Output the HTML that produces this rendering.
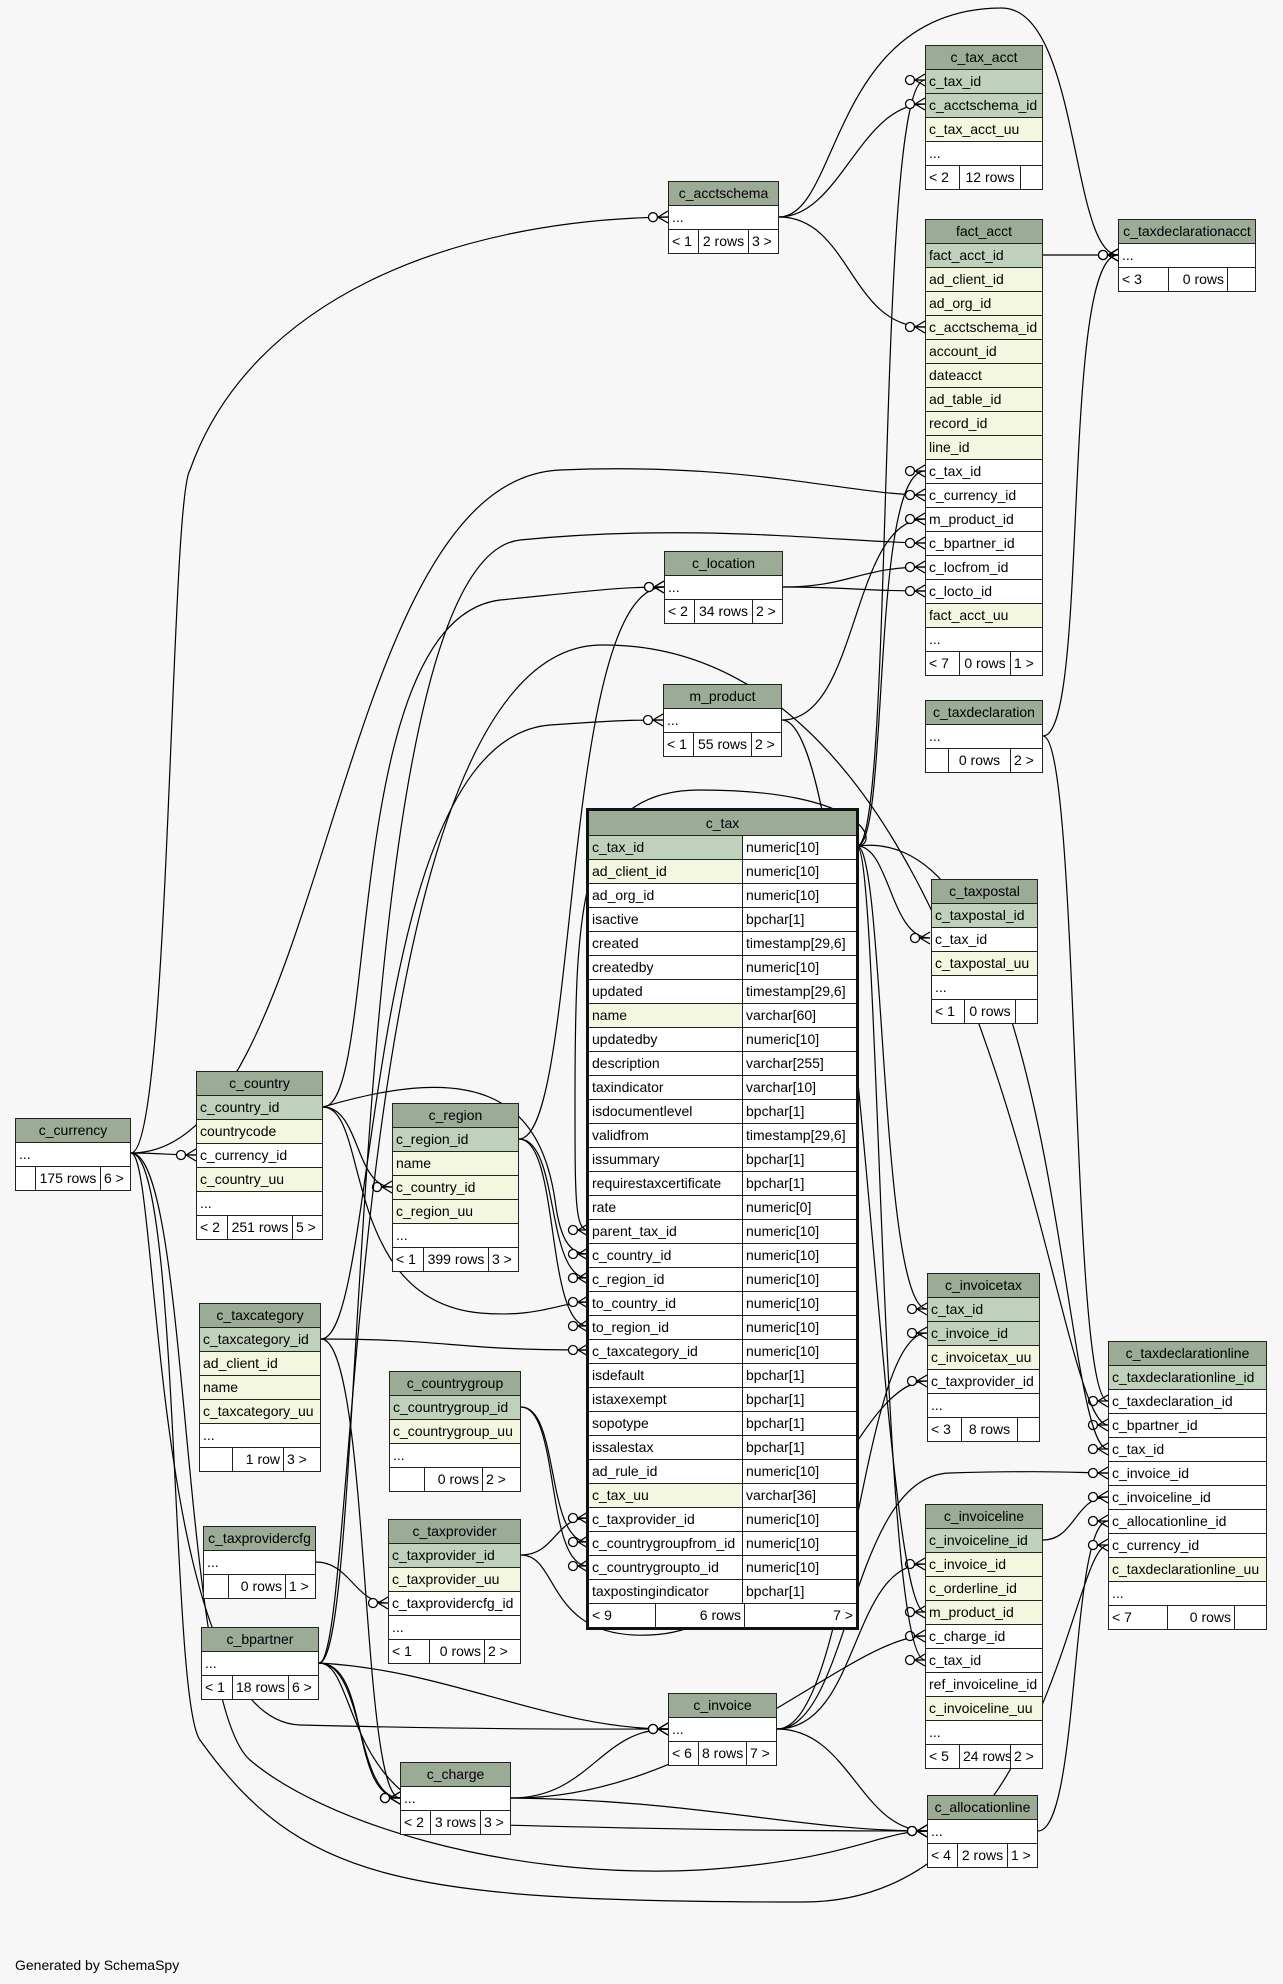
<!DOCTYPE html>
<html><head><meta charset="utf-8">
<style>
html,body{margin:0;padding:0;}
body{width:1283px;height:1984px;background:#f7f7f7;position:relative;overflow:hidden;font-family:"Liberation Sans",Arial,sans-serif;font-size:14px;color:#000;}
.t{position:absolute;border:1px solid #222;background:#fff;box-sizing:border-box;}
.t.big{border:3px solid #111;}
.h{height:23px;line-height:23px;background:#9bab96;text-align:center;white-space:nowrap;}
.r{height:23px;line-height:23px;border-top:1px solid #222;padding-left:3px;white-space:nowrap;overflow:hidden;}
.pk{background:#bfd1ba;}
.ix{background:#f4f7df;}
.f{display:flex;height:23px;line-height:23px;border-top:1px solid #222;white-space:nowrap;}
.f span{border-left:1px solid #222;padding:0 3px;box-sizing:border-box;overflow:hidden;}
.f span:first-child{border-left:none;}
.f span.m{flex:1;text-align:right;}
.r2{display:flex;height:23px;line-height:23px;border-top:1px solid #222;white-space:nowrap;}
.r2 span{padding-left:3px;box-sizing:border-box;overflow:hidden;}
.r2 span:first-child{width:154px;border-right:1px solid #222;}
.r2 span:last-child{flex:1;background:#fff;}
svg{position:absolute;left:0;top:0;}
.gen{position:absolute;left:15px;top:1957px;font-size:14px;}
</style></head><body>

<svg width="1283" height="1984" viewBox="0 0 1283 1984">
<defs>
<marker id="cr" markerUnits="userSpaceOnUse" markerWidth="30" markerHeight="20" refX="26" refY="10" orient="auto" viewBox="0 0 30 20">
<path d="M16 10 L26 4 M16 10 L26 10 M16 10 L26 16" stroke="#000" stroke-width="1.3" fill="none"/>
<circle cx="11" cy="10" r="4.5" fill="#fff" stroke="#000" stroke-width="1.3"/>
</marker>
</defs>
<g fill="none" stroke="#000" stroke-width="1.2" marker-end="url(#cr)">
<path d="M857 846 C 895 846, 875 80, 925 80"/>
<path d="M779 217 C 840 217, 860 104, 925 104"/>
<path d="M779 217 C 850 217, 850 327, 925 327"/>
<path d="M857 846 C 890 846, 870 471, 925 471"/>
<path d="M131 1153 C 330 1153, 330 480, 560 470 C 750 462, 850 495, 925 495"/>
<path d="M782 720 C 860 720, 850 519, 925 519"/>
<path d="M319 1663 C 370 1663, 340 560, 520 540 C 700 522, 850 543, 925 543"/>
<path d="M783 587 C 850 587, 860 567, 925 567"/>
<path d="M783 587 C 850 587, 860 591, 925 591"/>
<path d="M1043 255 L 1118 255"/>
<path d="M779 217 C 840 217, 830 10, 1000 8 C 1080 5, 1070 255, 1118 255"/>
<path d="M1043 736 C 1090 736, 1060 255, 1118 255"/>
<path d="M131 1153 C 170 1153, 170 500, 190 470 C 250 300, 450 220, 668 217"/>
<path d="M323 1107 C 380 1107, 340 620, 500 600 C 600 590, 620 587, 664 587"/>
<path d="M519 1139 C 580 1139, 560 587, 664 587"/>
<path d="M321 1339 C 380 1339, 360 740, 550 725 C 620 720, 640 720, 663 720"/>
<path d="M131 1153 C 160 1153, 170 1155, 196 1155"/>
<path d="M323 1107 C 360 1107, 355 1187, 392 1187"/>
<path d="M857 846 C 880 846, 870 790, 700 790 C 580 790, 575 900, 575 1100 C 575 1200, 575 1230, 588 1230"/>
<path d="M323 1107 C 480 1060, 540 1100, 555 1200 C 560 1240, 570 1254, 588 1254"/>
<path d="M519 1139 C 560 1139, 545 1278, 588 1278"/>
<path d="M323 1107 C 370 1107, 340 1300, 480 1313 C 540 1318, 560 1302, 588 1302"/>
<path d="M519 1139 C 560 1139, 545 1326, 588 1326"/>
<path d="M321 1339 C 450 1339, 450 1350, 588 1350"/>
<path d="M521 1555 C 555 1555, 555 1518, 588 1518"/>
<path d="M521 1407 C 560 1407, 545 1542, 588 1542"/>
<path d="M521 1407 C 560 1407, 545 1566, 588 1566"/>
<path d="M857 846 C 890 846, 890 938, 930 938"/>
<path d="M857 846 C 885 846, 880 1309, 927 1309"/>
<path d="M777 1729 C 850 1729, 860 1333, 927 1333"/>
<path d="M521 1555 C 560 1555, 545 1640, 650 1635 C 800 1630, 850 1381, 927 1381"/>
<path d="M1043 736 C 1080 736, 1070 1401, 1108 1401"/>
<path d="M319 1663 C 360 1663, 340 650, 600 645 C 1000 640, 1050 1425, 1108 1425"/>
<path d="M857 846 C 1060 820, 1060 1449, 1108 1449"/>
<path d="M777 1729 C 850 1729, 850 1475, 950 1473 C 1050 1470, 1080 1473, 1108 1473"/>
<path d="M1043 1540 C 1075 1540, 1075 1497, 1108 1497"/>
<path d="M1038 1831 C 1080 1831, 1070 1521, 1108 1521"/>
<path d="M131 1153 C 180 1153, 170 1700, 200 1740 C 300 1880, 400 1902, 800 1902 C 1050 1905, 1070 1545, 1108 1545"/>
<path d="M777 1729 C 860 1729, 850 1564, 925 1564"/>
<path d="M782 720 C 860 720, 880 1612, 925 1612"/>
<path d="M511 1798 C 700 1800, 850 1636, 925 1636"/>
<path d="M857 846 C 880 846, 880 1660, 925 1660"/>
<path d="M131 1153 C 160 1153, 150 1720, 300 1725 C 500 1730, 600 1729, 668 1729"/>
<path d="M319 1663 C 450 1670, 550 1729, 668 1729"/>
<path d="M511 1798 C 590 1798, 600 1729, 668 1729"/>
<path d="M777 1729 C 850 1729, 860 1831, 927 1831"/>
<path d="M511 1798 C 700 1800, 800 1831, 927 1831"/>
<path d="M319 1663 C 360 1663, 340 1820, 500 1825 C 700 1830, 800 1831, 927 1831"/>
<path d="M131 1153 C 190 1153, 180 1700, 250 1760 C 320 1820, 500 1880, 700 1870 C 850 1860, 880 1831, 927 1831"/>
<path d="M319 1663 C 370 1663, 350 1798, 400 1798"/>
<path d="M319 1663 C 365 1663, 355 1798, 400 1798"/>
<path d="M321 1339 C 370 1339, 360 1798, 400 1798"/>
<path d="M316 1562 C 350 1562, 355 1603, 388 1603"/>
</g>
</svg>

<!-- c_tax_acct -->
<div class="t" style="left:925px;top:45px;width:118px;">
<div class="h">c_tax_acct</div>
<div class="r pk">c_tax_id</div>
<div class="r pk">c_acctschema_id</div>
<div class="r ix">c_tax_acct_uu</div>
<div class="r">...</div>
<div class="f"><span style="width:33px">&lt; 2</span><span class="m" style="text-align:center">12 rows</span><span style="width:22px"></span></div>
</div>

<!-- fact_acct -->
<div class="t" style="left:925px;top:219px;width:118px;">
<div class="h">fact_acct</div>
<div class="r pk">fact_acct_id</div>
<div class="r ix">ad_client_id</div>
<div class="r ix">ad_org_id</div>
<div class="r ix">c_acctschema_id</div>
<div class="r ix">account_id</div>
<div class="r ix">dateacct</div>
<div class="r ix">ad_table_id</div>
<div class="r ix">record_id</div>
<div class="r ix">line_id</div>
<div class="r">c_tax_id</div>
<div class="r">c_currency_id</div>
<div class="r">m_product_id</div>
<div class="r">c_bpartner_id</div>
<div class="r">c_locfrom_id</div>
<div class="r">c_locto_id</div>
<div class="r ix">fact_acct_uu</div>
<div class="r">...</div>
<div class="f"><span style="width:33px">&lt; 7</span><span class="m" style="text-align:center">0 rows</span><span style="width:32px">1 &gt;</span></div>
</div>

<!-- c_taxdeclarationacct -->
<div class="t" style="left:1118px;top:219px;width:138px;">
<div class="h">c_taxdeclarationacct</div>
<div class="r">...</div>
<div class="f"><span style="width:49px">&lt; 3</span><span class="m">0 rows</span><span style="width:28px"></span></div>
</div>

<!-- c_acctschema -->
<div class="t" style="left:668px;top:181px;width:111px;">
<div class="h">c_acctschema</div>
<div class="r">...</div>
<div class="f"><span style="width:29px">&lt; 1</span><span class="m" style="text-align:center">2 rows</span><span style="width:30px">3 &gt;</span></div>
</div>

<!-- c_location -->
<div class="t" style="left:664px;top:551px;width:119px;">
<div class="h">c_location</div>
<div class="r">...</div>
<div class="f"><span style="width:29px">&lt; 2</span><span class="m" style="text-align:center">34 rows</span><span style="width:30px">2 &gt;</span></div>
</div>

<!-- m_product -->
<div class="t" style="left:663px;top:684px;width:119px;">
<div class="h">m_product</div>
<div class="r">...</div>
<div class="f"><span style="width:29px">&lt; 1</span><span class="m" style="text-align:center">55 rows</span><span style="width:30px">2 &gt;</span></div>
</div>

<!-- c_taxdeclaration -->
<div class="t" style="left:925px;top:700px;width:118px;">
<div class="h">c_taxdeclaration</div>
<div class="r">...</div>
<div class="f"><span style="width:22px"></span><span class="m" style="text-align:center">0 rows</span><span style="width:32px">2 &gt;</span></div>
</div>

<!-- c_tax -->
<div class="t big" style="left:586px;top:808px;width:273px;">
<div class="h" style="height:24px;line-height:24px;">c_tax</div>
<div class="r2"><span class="pk">c_tax_id</span><span>numeric[10]</span></div>
<div class="r2"><span class="ix">ad_client_id</span><span>numeric[10]</span></div>
<div class="r2"><span>ad_org_id</span><span>numeric[10]</span></div>
<div class="r2"><span>isactive</span><span>bpchar[1]</span></div>
<div class="r2"><span>created</span><span>timestamp[29,6]</span></div>
<div class="r2"><span>createdby</span><span>numeric[10]</span></div>
<div class="r2"><span>updated</span><span>timestamp[29,6]</span></div>
<div class="r2"><span class="ix">name</span><span>varchar[60]</span></div>
<div class="r2"><span>updatedby</span><span>numeric[10]</span></div>
<div class="r2"><span>description</span><span>varchar[255]</span></div>
<div class="r2"><span>taxindicator</span><span>varchar[10]</span></div>
<div class="r2"><span>isdocumentlevel</span><span>bpchar[1]</span></div>
<div class="r2"><span>validfrom</span><span>timestamp[29,6]</span></div>
<div class="r2"><span>issummary</span><span>bpchar[1]</span></div>
<div class="r2"><span>requirestaxcertificate</span><span>bpchar[1]</span></div>
<div class="r2"><span>rate</span><span>numeric[0]</span></div>
<div class="r2"><span>parent_tax_id</span><span>numeric[10]</span></div>
<div class="r2"><span>c_country_id</span><span>numeric[10]</span></div>
<div class="r2"><span>c_region_id</span><span>numeric[10]</span></div>
<div class="r2"><span>to_country_id</span><span>numeric[10]</span></div>
<div class="r2"><span>to_region_id</span><span>numeric[10]</span></div>
<div class="r2"><span>c_taxcategory_id</span><span>numeric[10]</span></div>
<div class="r2"><span>isdefault</span><span>bpchar[1]</span></div>
<div class="r2"><span>istaxexempt</span><span>bpchar[1]</span></div>
<div class="r2"><span>sopotype</span><span>bpchar[1]</span></div>
<div class="r2"><span>issalestax</span><span>bpchar[1]</span></div>
<div class="r2"><span>ad_rule_id</span><span>numeric[10]</span></div>
<div class="r2"><span class="ix">c_tax_uu</span><span>varchar[36]</span></div>
<div class="r2"><span>c_taxprovider_id</span><span>numeric[10]</span></div>
<div class="r2"><span>c_countrygroupfrom_id</span><span>numeric[10]</span></div>
<div class="r2"><span>c_countrygroupto_id</span><span>numeric[10]</span></div>
<div class="r2"><span>taxpostingindicator</span><span>bpchar[1]</span></div>
<div class="f"><span style="width:66px">&lt; 9</span><span style="width:89px;text-align:right">6 rows</span><span class="m">7 &gt;</span></div>
</div>

<!-- c_taxpostal -->
<div class="t" style="left:931px;top:879px;width:107px;">
<div class="h">c_taxpostal</div>
<div class="r pk">c_taxpostal_id</div>
<div class="r">c_tax_id</div>
<div class="r ix">c_taxpostal_uu</div>
<div class="r">...</div>
<div class="f"><span style="width:32px">&lt; 1</span><span class="m" style="text-align:center">0 rows</span><span style="width:22px"></span></div>
</div>

<!-- c_invoicetax -->
<div class="t" style="left:927px;top:1273px;width:113px;">
<div class="h">c_invoicetax</div>
<div class="r pk">c_tax_id</div>
<div class="r pk">c_invoice_id</div>
<div class="r ix">c_invoicetax_uu</div>
<div class="r">c_taxprovider_id</div>
<div class="r">...</div>
<div class="f"><span style="width:33px">&lt; 3</span><span class="m" style="text-align:center">8 rows</span><span style="width:22px"></span></div>
</div>

<!-- c_taxdeclarationline -->
<div class="t" style="left:1108px;top:1341px;width:159px;">
<div class="h">c_taxdeclarationline</div>
<div class="r pk">c_taxdeclarationline_id</div>
<div class="r">c_taxdeclaration_id</div>
<div class="r">c_bpartner_id</div>
<div class="r">c_tax_id</div>
<div class="r">c_invoice_id</div>
<div class="r">c_invoiceline_id</div>
<div class="r">c_allocationline_id</div>
<div class="r">c_currency_id</div>
<div class="r ix">c_taxdeclarationline_uu</div>
<div class="r">...</div>
<div class="f"><span style="width:58px">&lt; 7</span><span class="m">0 rows</span><span style="width:32px"></span></div>
</div>

<!-- c_invoiceline -->
<div class="t" style="left:925px;top:1504px;width:118px;">
<div class="h">c_invoiceline</div>
<div class="r pk">c_invoiceline_id</div>
<div class="r ix">c_invoice_id</div>
<div class="r ix">c_orderline_id</div>
<div class="r ix">m_product_id</div>
<div class="r">c_charge_id</div>
<div class="r">c_tax_id</div>
<div class="r">ref_invoiceline_id</div>
<div class="r ix">c_invoiceline_uu</div>
<div class="r">...</div>
<div class="f"><span style="width:33px">&lt; 5</span><span class="m" style="text-align:center">24 rows</span><span style="width:32px">2 &gt;</span></div>
</div>

<!-- c_allocationline -->
<div class="t" style="left:927px;top:1795px;width:111px;">
<div class="h">c_allocationline</div>
<div class="r">...</div>
<div class="f"><span style="width:29px">&lt; 4</span><span class="m" style="text-align:center">2 rows</span><span style="width:30px">1 &gt;</span></div>
</div>

<!-- c_invoice -->
<div class="t" style="left:668px;top:1693px;width:109px;">
<div class="h">c_invoice</div>
<div class="r">...</div>
<div class="f"><span style="width:29px">&lt; 6</span><span class="m" style="text-align:center">8 rows</span><span style="width:30px">7 &gt;</span></div>
</div>

<!-- c_charge -->
<div class="t" style="left:400px;top:1762px;width:111px;">
<div class="h">c_charge</div>
<div class="r">...</div>
<div class="f"><span style="width:29px">&lt; 2</span><span class="m" style="text-align:center">3 rows</span><span style="width:30px">3 &gt;</span></div>
</div>

<!-- c_currency -->
<div class="t" style="left:15px;top:1118px;width:116px;">
<div class="h">c_currency</div>
<div class="r">...</div>
<div class="f"><span style="width:19px"></span><span class="m" style="text-align:center">175 rows</span><span style="width:30px">6 &gt;</span></div>
</div>

<!-- c_country -->
<div class="t" style="left:196px;top:1071px;width:127px;">
<div class="h">c_country</div>
<div class="r pk">c_country_id</div>
<div class="r ix">countrycode</div>
<div class="r">c_currency_id</div>
<div class="r ix">c_country_uu</div>
<div class="r">...</div>
<div class="f"><span style="width:30px">&lt; 2</span><span class="m" style="text-align:center">251 rows</span><span style="width:30px">5 &gt;</span></div>
</div>

<!-- c_region -->
<div class="t" style="left:392px;top:1103px;width:127px;">
<div class="h">c_region</div>
<div class="r pk">c_region_id</div>
<div class="r ix">name</div>
<div class="r ix">c_country_id</div>
<div class="r ix">c_region_uu</div>
<div class="r">...</div>
<div class="f"><span style="width:30px">&lt; 1</span><span class="m" style="text-align:center">399 rows</span><span style="width:30px">3 &gt;</span></div>
</div>

<!-- c_taxcategory -->
<div class="t" style="left:199px;top:1303px;width:122px;">
<div class="h">c_taxcategory</div>
<div class="r pk">c_taxcategory_id</div>
<div class="r ix">ad_client_id</div>
<div class="r ix">name</div>
<div class="r ix">c_taxcategory_uu</div>
<div class="r">...</div>
<div class="f"><span style="width:32px"></span><span class="m">1 row</span><span style="width:37px">3 &gt;</span></div>
</div>

<!-- c_countrygroup -->
<div class="t" style="left:389px;top:1371px;width:132px;">
<div class="h">c_countrygroup</div>
<div class="r pk">c_countrygroup_id</div>
<div class="r ix">c_countrygroup_uu</div>
<div class="r">...</div>
<div class="f"><span style="width:34px"></span><span class="m">0 rows</span><span style="width:38px">2 &gt;</span></div>
</div>

<!-- c_taxprovidercfg -->
<div class="t" style="left:203px;top:1526px;width:113px;">
<div class="h">c_taxprovidercfg</div>
<div class="r">...</div>
<div class="f"><span style="width:24px"></span><span class="m">0 rows</span><span style="width:30px">1 &gt;</span></div>
</div>

<!-- c_taxprovider -->
<div class="t" style="left:388px;top:1519px;width:133px;">
<div class="h">c_taxprovider</div>
<div class="r pk">c_taxprovider_id</div>
<div class="r ix">c_taxprovider_uu</div>
<div class="r">c_taxprovidercfg_id</div>
<div class="r">...</div>
<div class="f"><span style="width:40px">&lt; 1</span><span class="m">0 rows</span><span style="width:36px">2 &gt;</span></div>
</div>

<!-- c_bpartner -->
<div class="t" style="left:201px;top:1627px;width:118px;">
<div class="h">c_bpartner</div>
<div class="r">...</div>
<div class="f"><span style="width:30px">&lt; 1</span><span class="m" style="text-align:center">18 rows</span><span style="width:30px">6 &gt;</span></div>
</div>

<div class="gen">Generated by SchemaSpy</div>
</body></html>
